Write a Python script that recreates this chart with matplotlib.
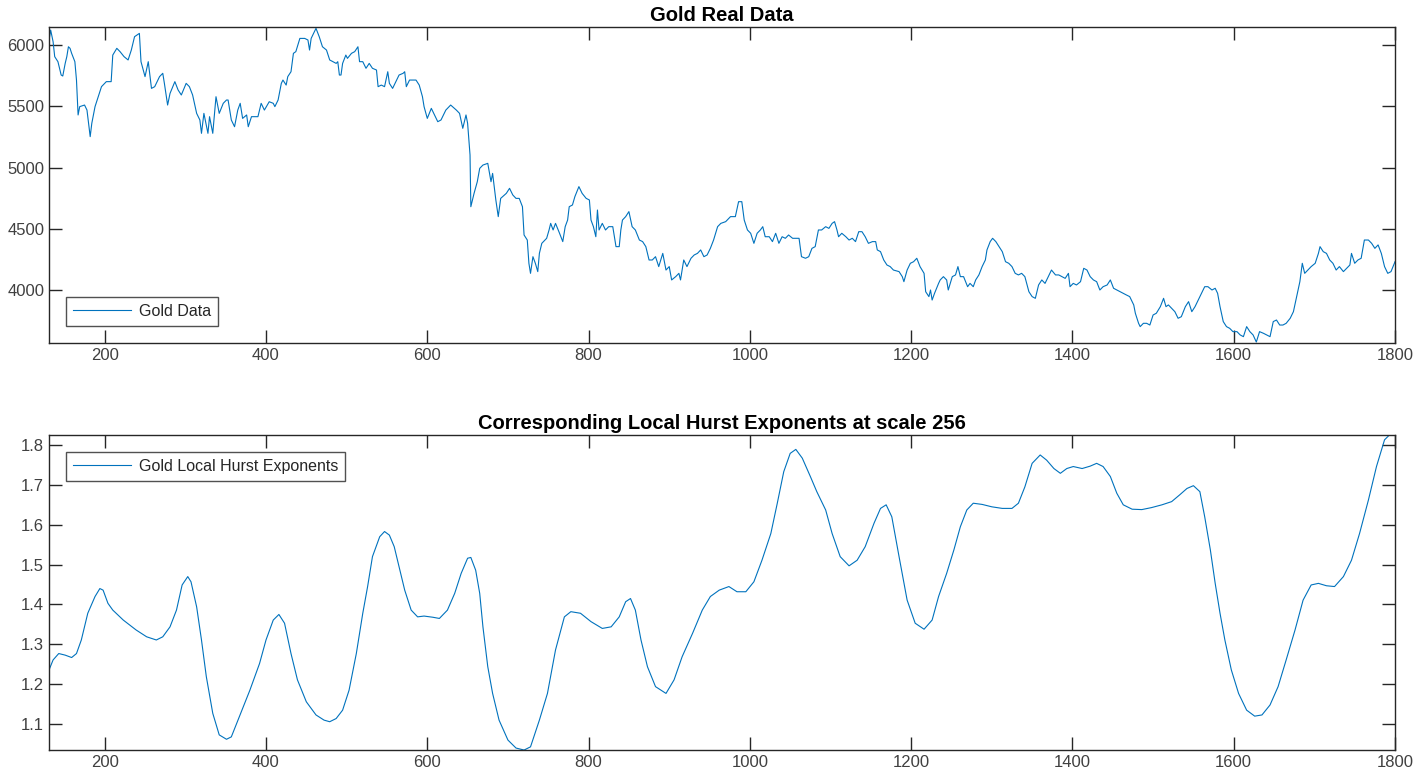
import matplotlib
matplotlib.use('Agg')
import matplotlib.pyplot as plt

# ---- Gold price series ----
gold_x = [131, 133, 136, 138, 142, 146, 148, 151, 153, 155, 157, 159, 163, 165, 167, 169, 175, 178, 182, 184,
          188, 192, 196, 202, 208, 210, 215, 219, 224, 229, 233, 237, 243, 245, 250, 254, 258, 262, 266, 268,
          272, 274, 278, 281, 287, 291, 295, 301, 305, 309, 314, 318, 320, 323, 328, 330, 334, 338, 342, 347,
          351, 353, 357, 361, 365, 368, 371, 376, 378, 382, 386, 390, 394, 398, 404, 409, 411, 415, 419, 421,
          425, 427, 431, 434, 437, 442, 448, 452, 454, 456, 460, 462, 466, 470, 475, 479, 483, 487, 489, 491,
          493, 495, 499, 501, 506, 510, 514, 516, 520, 524, 528, 532, 537, 539, 543, 547, 551, 553, 557, 561,
          565, 570, 572, 574, 578, 582, 586, 590, 594, 596, 600, 605, 609, 613, 617, 623, 629, 636, 640, 644,
          648, 650, 653, 654, 658, 662, 665, 669, 675, 679, 681, 685, 688, 691, 698, 702, 706, 710, 714, 718,
          720, 724, 726, 728, 731, 734, 737, 739, 742, 748, 751, 753, 756, 759, 764, 768, 771, 774, 776, 780,
          783, 788, 792, 797, 801, 803, 806, 809, 811, 813, 817, 821, 825, 830, 834, 838, 840, 842, 846, 850,
          854, 858, 863, 867, 871, 875, 879, 883, 887, 892, 896, 900, 903, 908, 912, 914, 918, 922, 927, 931,
          935, 939, 943, 947, 951, 955, 960, 964, 970, 976, 982, 986, 990, 993, 997, 1001, 1005, 1009, 1013, 1016,
          1019, 1024, 1028, 1032, 1036, 1040, 1044, 1048, 1053, 1057, 1061, 1064, 1069, 1073, 1077, 1081, 1085, 1089, 1094, 1098,
          1102, 1105, 1108, 1110, 1114, 1119, 1123, 1127, 1131, 1135, 1139, 1143, 1147, 1152, 1156, 1158, 1162, 1166, 1170, 1174,
          1178, 1185, 1189, 1191, 1195, 1199, 1203, 1207, 1211, 1216, 1218, 1222, 1224, 1226, 1229, 1234, 1236, 1240, 1244, 1246,
          1251, 1255, 1258, 1261, 1265, 1270, 1273, 1277, 1280, 1284, 1288, 1292, 1294, 1298, 1301, 1305, 1309, 1313, 1317, 1321,
          1325, 1329, 1333, 1337, 1341, 1346, 1350, 1354, 1358, 1362, 1366, 1370, 1374, 1379, 1383, 1387, 1391, 1395, 1397, 1401,
          1405, 1410, 1414, 1418, 1422, 1426, 1430, 1434, 1438, 1443, 1447, 1451, 1455, 1459, 1463, 1467, 1471, 1476, 1478, 1482,
          1484, 1488, 1492, 1496, 1500, 1504, 1509, 1513, 1516, 1519, 1523, 1527, 1531, 1535, 1540, 1544, 1548, 1552, 1556, 1560,
          1564, 1568, 1573, 1577, 1580, 1583, 1587, 1591, 1595, 1599, 1604, 1608, 1612, 1616, 1620, 1624, 1628, 1632, 1637, 1641,
          1645, 1649, 1653, 1657, 1661, 1665, 1670, 1674, 1678, 1682, 1685, 1688, 1692, 1696, 1701, 1705, 1707, 1711, 1715, 1719,
          1723, 1727, 1731, 1736, 1740, 1744, 1746, 1750, 1754, 1758, 1762, 1767, 1771, 1775, 1779, 1783, 1787, 1791, 1795, 1800]
gold_y = [6041, 6122, 6027, 5905, 5864, 5755, 5747, 5850, 5905, 5986, 5973, 5932, 5864, 5714, 5429, 5497, 5510, 5469, 5252, 5361,
          5497, 5578, 5660, 5701, 5701, 5918, 5973, 5946, 5905, 5878, 5959, 6068, 6095, 5864, 5742, 5864, 5646, 5660, 5714, 5742,
          5769, 5687, 5510, 5605, 5701, 5633, 5592, 5687, 5660, 5592, 5442, 5388, 5279, 5442, 5279, 5415, 5279, 5578, 5442, 5524,
          5551, 5551, 5388, 5333, 5469, 5524, 5401, 5429, 5333, 5415, 5415, 5415, 5524, 5469, 5537, 5524, 5497, 5551, 5687, 5714,
          5673, 5742, 5782, 5932, 5946, 6054, 6054, 6041, 5959, 6054, 6109, 6136, 6068, 5986, 5959, 5878, 5864, 5850, 5864, 5755,
          5755, 5850, 5918, 5891, 5932, 5946, 5986, 5864, 5864, 5810, 5850, 5810, 5796, 5660, 5673, 5660, 5782, 5687, 5646, 5701,
          5755, 5769, 5782, 5660, 5714, 5714, 5714, 5673, 5578, 5497, 5401, 5483, 5429, 5374, 5388, 5469, 5510, 5469, 5442, 5320,
          5429, 5361, 5102, 4680, 4789, 4884, 4993, 5020, 5034, 4884, 4952, 4735, 4599, 4748, 4789, 4830, 4776, 4748, 4748, 4680,
          4449, 4408, 4218, 4136, 4272, 4218, 4150, 4299, 4381, 4422, 4490, 4544, 4490, 4544, 4463, 4395, 4517, 4571, 4680, 4694,
          4762, 4844, 4789, 4748, 4735, 4571, 4517, 4435, 4653, 4490, 4544, 4490, 4517, 4517, 4354, 4354, 4490, 4571, 4599, 4640,
          4517, 4490, 4408, 4395, 4354, 4245, 4245, 4272, 4191, 4299, 4163, 4191, 4082, 4109, 4136, 4082, 4245, 4191, 4259, 4286,
          4299, 4327, 4272, 4286, 4340, 4408, 4517, 4544, 4558, 4599, 4599, 4721, 4721, 4571, 4490, 4463, 4381, 4463, 4490, 4517,
          4435, 4435, 4395, 4463, 4381, 4435, 4422, 4449, 4422, 4422, 4422, 4272, 4259, 4272, 4340, 4354, 4490, 4490, 4517, 4503,
          4544, 4558, 4490, 4435, 4463, 4435, 4408, 4422, 4395, 4476, 4476, 4435, 4381, 4395, 4395, 4327, 4313, 4245, 4204, 4191,
          4163, 4150, 4109, 4068, 4163, 4218, 4231, 4259, 4191, 4136, 3986, 3946, 4000, 3918, 3973, 4054, 4082, 4109, 4082, 4000,
          4109, 4123, 4191, 4109, 4109, 4027, 4054, 4027, 4082, 4123, 4191, 4245, 4327, 4395, 4422, 4395, 4354, 4313, 4231, 4218,
          4191, 4136, 4123, 4136, 4109, 3986, 3946, 3932, 4041, 4082, 4054, 4109, 4163, 4123, 4123, 4109, 4095, 4136, 4027, 4054,
          4041, 4068, 4177, 4163, 4109, 4082, 4068, 4000, 4027, 4041, 4082, 4014, 4000, 3986, 3973, 3959, 3946, 3878, 3810, 3728,
          3701, 3728, 3728, 3714, 3796, 3810, 3864, 3932, 3864, 3878, 3850, 3823, 3769, 3782, 3864, 3905, 3823, 3864, 3918, 3973,
          4027, 4027, 4000, 4014, 3973, 3864, 3742, 3701, 3687, 3660, 3660, 3633, 3619, 3701, 3660, 3633, 3575, 3660, 3646, 3633,
          3619, 3742, 3755, 3714, 3714, 3728, 3769, 3823, 3946, 4068, 4218, 4136, 4163, 4191, 4218, 4299, 4354, 4313, 4299, 4245,
          4218, 4163, 4191, 4150, 4177, 4204, 4299, 4218, 4245, 4259, 4408, 4408, 4381, 4340, 4368, 4299, 4191, 4136, 4150, 4231]

# ---- Local Hurst exponents ----
hurst_x = [131, 136, 143, 151, 159, 165, 171, 179, 188, 194, 198, 204, 210, 223, 239, 252, 264, 272, 281, 289,
           296, 303, 307, 314, 320, 326, 334, 342, 351, 357, 367, 380, 392, 400, 409, 416, 423, 431, 439, 450,
           462, 472, 479, 487, 495, 503, 512, 520, 526, 532, 541, 547, 553, 559, 565, 572, 580, 588, 596, 607,
           615, 625, 634, 642, 650, 654, 660, 665, 669, 675, 681, 689, 700, 710, 720, 728, 739, 749, 759, 770,
           778, 790, 803, 817, 828, 838, 846, 852, 858, 865, 873, 883, 896, 906, 916, 929, 941, 951, 962, 974,
           984, 995, 1005, 1015, 1026, 1034, 1042, 1050, 1057, 1065, 1075, 1083, 1094, 1102, 1112, 1123, 1133, 1143, 1154, 1162,
           1169, 1176, 1185, 1195, 1205, 1216, 1226, 1234, 1244, 1253, 1261, 1269, 1277, 1288, 1300, 1313, 1325, 1333, 1341, 1350,
           1360, 1368, 1377, 1385, 1393, 1401, 1412, 1422, 1430, 1438, 1447, 1455, 1463, 1474, 1486, 1498, 1511, 1523, 1533, 1542,
           1550, 1558, 1564, 1571, 1577, 1583, 1589, 1597, 1606, 1616, 1626, 1635, 1645, 1655, 1665, 1676, 1686, 1696, 1705, 1715,
           1725, 1736, 1746, 1756, 1767, 1777, 1787, 1793, 1800]
hurst_y = [1.236, 1.261, 1.277, 1.273, 1.267, 1.277, 1.311, 1.378, 1.420, 1.440, 1.436, 1.403, 1.386, 1.361, 1.336, 1.319, 1.311, 1.319, 1.344, 1.386,
           1.449, 1.470, 1.457, 1.394, 1.311, 1.219, 1.127, 1.073, 1.062, 1.068, 1.119, 1.185, 1.252, 1.311, 1.361, 1.375, 1.353, 1.277, 1.211, 1.156,
           1.123, 1.110, 1.106, 1.114, 1.135, 1.185, 1.277, 1.378, 1.445, 1.520, 1.570, 1.583, 1.574, 1.545, 1.495, 1.436, 1.386, 1.369, 1.371, 1.368,
           1.365, 1.386, 1.428, 1.478, 1.516, 1.518, 1.486, 1.428, 1.344, 1.244, 1.177, 1.110, 1.060, 1.040, 1.035, 1.043, 1.110, 1.177, 1.286, 1.369,
           1.382, 1.378, 1.357, 1.340, 1.344, 1.369, 1.407, 1.415, 1.386, 1.311, 1.244, 1.194, 1.177, 1.211, 1.269, 1.328, 1.386, 1.420, 1.436, 1.445,
           1.432, 1.432, 1.457, 1.511, 1.578, 1.654, 1.733, 1.779, 1.789, 1.767, 1.721, 1.683, 1.637, 1.578, 1.520, 1.497, 1.511, 1.545, 1.604, 1.641,
           1.650, 1.620, 1.520, 1.411, 1.353, 1.338, 1.361, 1.420, 1.478, 1.537, 1.595, 1.637, 1.654, 1.651, 1.645, 1.641, 1.641, 1.654, 1.695, 1.754,
           1.775, 1.762, 1.741, 1.729, 1.741, 1.746, 1.741, 1.747, 1.754, 1.746, 1.721, 1.679, 1.650, 1.639, 1.638, 1.643, 1.650, 1.658, 1.675, 1.691,
           1.698, 1.683, 1.620, 1.537, 1.453, 1.378, 1.311, 1.236, 1.177, 1.135, 1.120, 1.123, 1.148, 1.194, 1.261, 1.336, 1.411, 1.449, 1.453, 1.447,
           1.445, 1.470, 1.511, 1.578, 1.662, 1.746, 1.813, 1.825, 1.830]

line_color = '#0072BD'
axis_color = '#262626'

plt.rcParams['font.family'] = ['Liberation Sans', 'DejaVu Sans']

fig = plt.figure(figsize=(14.18, 7.83), dpi=100)
ax1 = fig.add_axes([0.0346, 0.5619, 0.9492, 0.4036])
ax2 = fig.add_axes([0.0346, 0.0421, 0.9492, 0.4023])


def style_axes(ax):
    for s in ax.spines.values():
        s.set_color(axis_color)
        s.set_linewidth(1.0)
    ax.tick_params(direction='in', length=9.5, width=1.0, top=True, right=True,
                   colors=axis_color, labelsize=12, labelcolor='#404040')
    ax.set_xlim(131, 1800)
    ax.set_xticks([200, 400, 600, 800, 1000, 1200, 1400, 1600, 1800])


def style_legend(leg):
    leg.get_frame().set_edgecolor(axis_color)
    leg.get_frame().set_linewidth(1.0)
    for t in leg.get_texts():
        t.set_color('#262626')


ax1.plot(gold_x, gold_y, color=line_color, lw=0.8, label='Gold Data')
style_axes(ax1)
ax1.set_ylim(3567, 6147)
ax1.set_yticks([4000, 4500, 5000, 5500, 6000])
ax1.set_title('Gold Real Data', fontsize=14.5, fontweight='bold', pad=4)
leg1 = ax1.legend(loc='lower left', fontsize=11.5, handlelength=3.6, handletextpad=0.5,
                  frameon=True, fancybox=False, borderaxespad=1.05, borderpad=0.45)
style_legend(leg1)

ax2.plot(hurst_x, hurst_y, color=line_color, lw=0.8, label='Gold Local Hurst Exponents')
style_axes(ax2)
ax2.set_ylim(1.035, 1.825)
ax2.set_yticks([1.1, 1.2, 1.3, 1.4, 1.5, 1.6, 1.7, 1.8])
ax2.set_title('Corresponding Local Hurst Exponents at scale 256', fontsize=14.5, fontweight='bold', pad=4)
leg2 = ax2.legend(loc='upper left', fontsize=11.5, handlelength=3.6, handletextpad=0.5,
                  frameon=True, fancybox=False, borderaxespad=1.05, borderpad=0.45)
style_legend(leg2)

fig.savefig('out.png', dpi=100)
